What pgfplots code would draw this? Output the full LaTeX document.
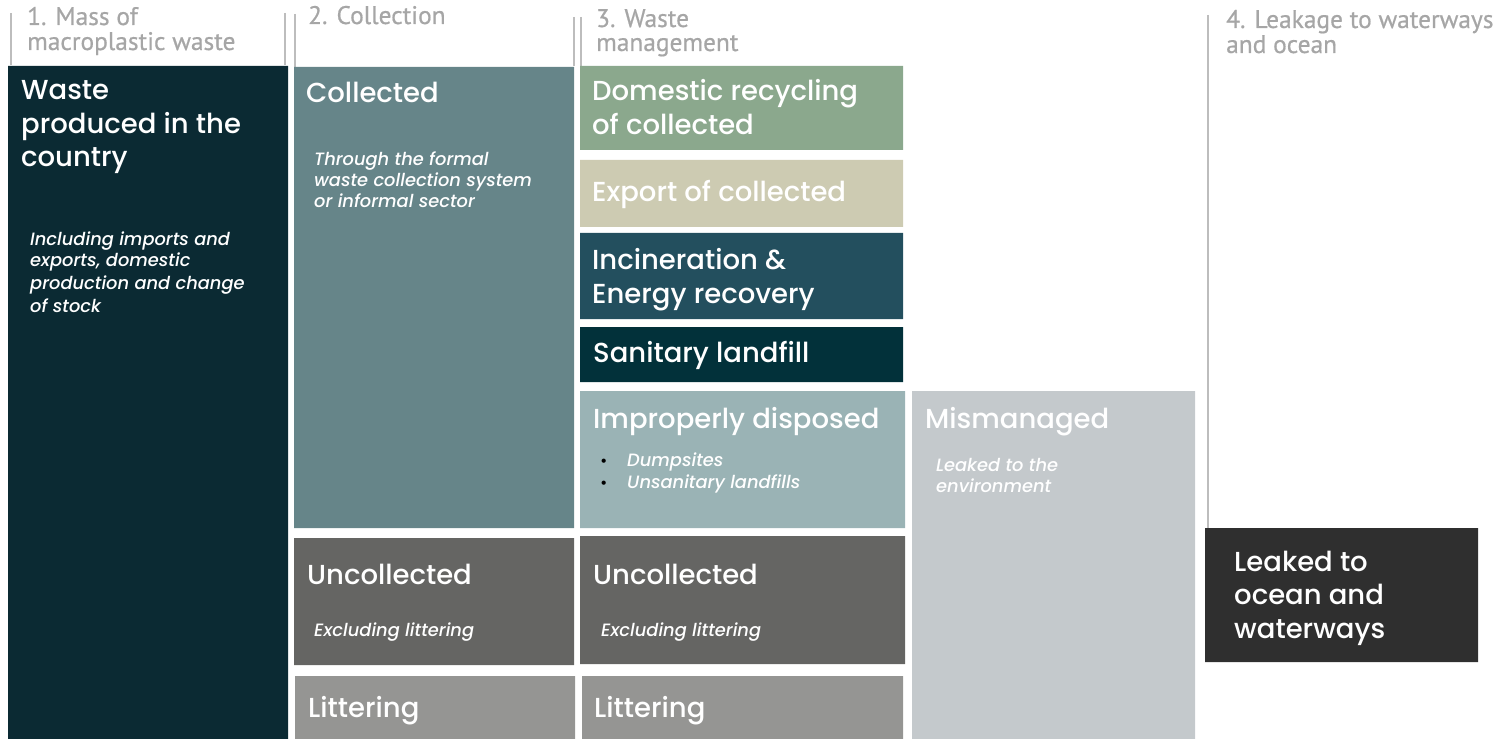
\documentclass[border=0pt]{standalone}
\usepackage{pgfplots}
\pgfplotsset{compat=1.18}
\usepackage{fontspec}
\setmainfont{Poppins}
\newfontfamily\headf{PT Sans}[FakeBold=0.6]
\newfontfamily\titf{Poppins Medium}[ItalicFont=Poppins Medium Italic]
\definecolor{cDark}{HTML}{0B2A33}
\definecolor{cColl}{HTML}{668589}
\definecolor{cUnc}{HTML}{656563}
\definecolor{cLit}{HTML}{959593}
\definecolor{cDom}{HTML}{8BA88D}
\definecolor{cExp}{HTML}{CDCBB2}
\definecolor{cInc}{HTML}{234F5E}
\definecolor{cSan}{HTML}{02313A}
\definecolor{cImp}{HTML}{9AB3B5}
\definecolor{cMis}{HTML}{C4C9CC}
\definecolor{cLeak}{HTML}{2F2F2F}
\definecolor{cHead}{HTML}{A6A6A6}
\definecolor{cLine}{HTML}{BDBDBD}
\newcommand{\bx}[5]{\addplot[fill=#5,draw=none,forget plot] coordinates {(#1,#2) (#3,#2) (#3,#4) (#1,#4) (#1,#2)};}
\newcommand{\vl}[3]{\addplot[draw=cLine,line width=2bp,forget plot] coordinates {(#1,#2) (#1,#3)};}
\newcommand{\hd}[3]{\node[anchor=base west,inner sep=0pt,text=cHead,font=\headf\fontsize{25.5}{28}\selectfont] at (axis cs:#1,#2) {#3};}
\newcommand{\ttl}[3]{\node[anchor=base west,inner sep=0pt,text=white,font=\titf\fontsize{27.6}{32}\selectfont] at (axis cs:#1,#2) {#3};}
\newcommand{\itl}[3]{\node[anchor=base west,inner sep=0pt,text=white,font=\titf\itshape\fontsize{17.9}{20}\selectfont] at (axis cs:#1,#2) {#3};}
\begin{document}
\begin{tikzpicture}
\begin{axis}[scale only axis,width=1498bp,height=739bp,xmin=0,xmax=1498,ymin=0,ymax=739,
  y dir=reverse,hide axis,clip=false]
% invisible frame
\addplot[draw=none,forget plot] coordinates {(0,0) (1498,739)};
% header lines
\vl{11}{13}{65}
\vl{285}{13}{65}
\vl{295}{14}{67}
\vl{574}{17}{66}
\vl{581}{17}{66}
\vl{1208}{15}{528}
% boxes
\bx{8}{66}{288}{739}{cDark}
\bx{294}{67}{574}{528}{cColl}
\bx{294}{538}{574}{665}{cUnc}
\bx{295}{676}{575}{739}{cLit}
\bx{580}{66}{903}{150}{cDom}
\bx{580}{160}{903}{227}{cExp}
\bx{580}{233}{903}{319}{cInc}
\bx{580}{327}{903}{382}{cSan}
\bx{580}{391}{905}{528}{cImp}
\bx{580}{536}{905}{664}{cUnc}
\bx{582}{676}{903}{739}{cLit}
\bx{912}{391}{1195}{739}{cMis}
\bx{1205}{528}{1478}{662}{cLeak}
% headings
\hd{27}{25}{1. Mass of}
\hd{27}{50}{macroplastic waste}
\hd{308}{24}{2. Collection}
\hd{596}{27}{3. Waste}
\hd{596}{51}{management}
\hd{1226}{28}{4. Leakage to waterways}
\hd{1226}{53}{and ocean}
% titles
\ttl{21}{100}{Waste}
\ttl{21}{134}{produced in the}
\ttl{21}{167}{country}
\ttl{306}{103}{Collected}
\ttl{592}{101}{Domestic recycling}
\ttl{592}{135}{of collected}
\ttl{592}{202}{Export of collected}
\ttl{592}{270}{Incineration \&}
\ttl{592}{304}{Energy recovery}
\ttl{593}{362}{Sanitary landfill}
\ttl{593}{428}{Improperly disposed}
\ttl{925}{428}{Mismanaged}
\ttl{307}{584}{Uncollected}
\ttl{593}{584}{Uncollected}
\ttl{308}{717}{Littering}
\ttl{594}{717}{Littering}
\ttl{1234}{571}{Leaked to}
\ttl{1234}{604}{ocean and}
\ttl{1234}{638}{waterways}
% italics
\itl{30}{246}{Including imports and}
\itl{30}{267}{exports, domestic}
\itl{30}{289}{production and change}
\itl{30}{313}{of stock}
\itl{314}{166}{Through the formal}
\itl{314}{187}{waste collection system}
\itl{314}{208}{or informal sector}
\itl{627}{466}{Dumpsites}
\itl{627}{488}{Unsanitary landfills}
\node[anchor=base west,inner sep=0pt,text=black,font=\titf\fontsize{16}{16}\selectfont] at (axis cs:600,466) {•};
\node[anchor=base west,inner sep=0pt,text=black,font=\titf\fontsize{16}{16}\selectfont] at (axis cs:600,488) {•};
\itl{936}{471}{Leaked to the}
\itl{936}{492}{environment}
\itl{314}{636}{Excluding littering}
\itl{601}{636}{Excluding littering}
\end{axis}
\end{tikzpicture}
\end{document}
